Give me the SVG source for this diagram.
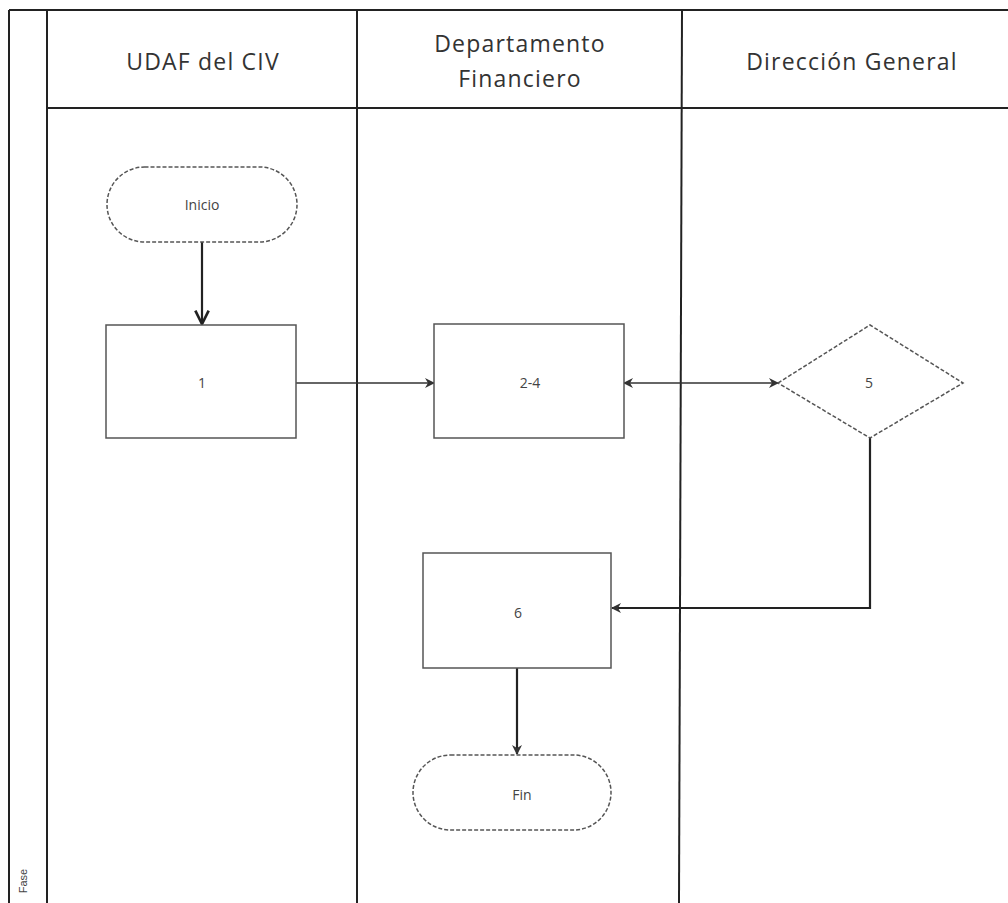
<svg xmlns="http://www.w3.org/2000/svg" width="1008" height="903" viewBox="0 0 1008 903">
<style>
.lane{stroke:#222;stroke-width:2;fill:none}
.hdr{font-family:"Open Sans","Liberation Sans",sans-serif;font-size:23px;letter-spacing:1.2px;fill:#333;text-anchor:middle}
.shape{fill:#fff;stroke:#555;stroke-width:1.5}
.dash{fill:#fff;stroke:#555;stroke-width:1.5;stroke-dasharray:4 2}
.lbl{font-family:"Open Sans","Liberation Sans",sans-serif;font-size:14px;fill:#444;text-anchor:middle}
.conn{stroke:#333;stroke-width:1.5;fill:none}
.connb{stroke:#222;stroke-width:2.2;fill:none}
</style>
<defs>
<marker id="tri" viewBox="0 0 10 10" refX="9" refY="5" markerWidth="10" markerHeight="10" markerUnits="userSpaceOnUse" orient="auto-start-reverse">
<path d="M0,0 L10,5 L0,10 L3,5 Z" fill="#333"/>
</marker>
<marker id="vee" viewBox="0 0 12 12" refX="11" refY="6" markerWidth="16" markerHeight="16" markerUnits="userSpaceOnUse" orient="auto">
<path d="M1,1 L11,6 L1,11" fill="none" stroke="#222" stroke-width="2"/>
</marker>
</defs>
<rect width="1008" height="903" fill="#fff"/>
<g id="pool">
<line class="lane" x1="9" y1="10" x2="1008" y2="10"/>
<line class="lane" x1="9" y1="10" x2="9" y2="903"/>
<line class="lane" x1="47" y1="10" x2="47" y2="903"/>
<line class="lane" x1="47" y1="108" x2="1008" y2="108"/>
<line class="lane" x1="357" y1="10" x2="357" y2="903"/>
<line class="lane" x1="682" y1="10" x2="679" y2="903"/>
<text class="hdr" x="203" y="70">UDAF del CIV</text>
<text class="hdr" x="520" y="52">Departamento</text>
<text class="hdr" x="520" y="87">Financiero</text>
<text class="hdr" x="852" y="70">Dirección General</text>
<text font-family="'Liberation Sans',sans-serif" font-size="11" fill="#444" text-anchor="middle" transform="translate(27,881) rotate(-90)">Fase</text>
</g>
<g id="connectors">
<line class="connb" x1="202" y1="242" x2="202" y2="324" marker-end="url(#vee)"/>
<line class="conn" x1="296" y1="383" x2="434" y2="383" marker-end="url(#tri)"/>
<line class="conn" x1="624" y1="383" x2="778" y2="383" marker-start="url(#tri)" marker-end="url(#tri)"/>
<polyline class="connb" points="870,438 870,608 612,608" marker-end="url(#tri)"/>
<line class="connb" x1="517" y1="668" x2="517" y2="754" marker-end="url(#tri)"/>
</g>
<g id="inicio">
<rect class="dash" x="107" y="167" width="190" height="75" rx="37.5"/>
<text class="lbl" x="202" y="210">Inicio</text>
</g>
<g id="n1">
<rect class="shape" x="106" y="325" width="190" height="113"/>
<text class="lbl" x="202" y="388">1</text>
</g>
<g id="n24">
<rect class="shape" x="434" y="324" width="190" height="114"/>
<text class="lbl" x="530" y="388">2-4</text>
</g>
<g id="n5">
<polygon class="dash" points="778,383 870,325 963,383 870,438"/>
<text class="lbl" x="869" y="388">5</text>
</g>
<g id="n6">
<rect class="shape" x="423" y="553" width="188" height="115"/>
<text class="lbl" x="518" y="618">6</text>
</g>
<g id="fin">
<rect class="dash" x="413" y="755" width="198" height="75" rx="37.5"/>
<text class="lbl" x="522" y="800">Fin</text>
</g>
</svg>
